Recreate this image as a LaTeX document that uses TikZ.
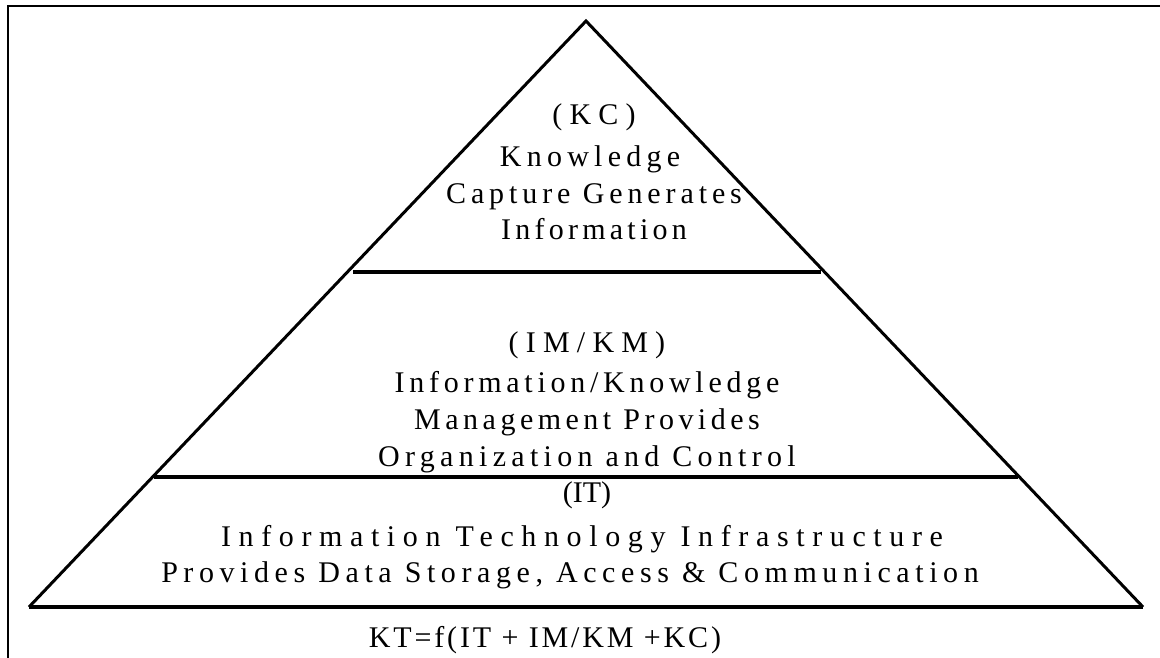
\documentclass[tikz,border=0pt]{standalone}
\usepackage{fontspec}
\setmainfont{Liberation Serif}
\newcommand\lsp[1]{\addfontfeature{LetterSpace=#1}}
\begin{document}
\begin{tikzpicture}[x=1pt,y=-1pt,
  txt/.style={font=\fontsize{30}{32}\selectfont, inner sep=0pt, anchor=base},
  edge/.style={line width=3pt, line join=miter},
  basel/.style={line width=4pt},
  tier/.style={line width=3.5pt}]
\useasboundingbox (0,0) rectangle (1160,658);
\draw[line width=2pt] (7.5,658) -- (7.5,6.5) -- (1160,6.5);
\coordinate (apex) at (586,21);
\coordinate (bl) at (29,607);
\coordinate (br) at (1143,607);
\draw[edge] (bl) -- (apex) -- (br);
\draw[basel] (bl) -- (br);
\coordinate (t1l) at (353,272);
\coordinate (t1r) at (821,272);
\coordinate (t2l) at (154,477);
\coordinate (t2r) at (1018,477);
\draw[tier] (t1l) -- (t1r);
\draw[tier] (t2l) -- (t2r);
\node[txt] (kc) at (594,125) {\lsp{24}(KC)};
\node[txt] (kc1) at (590,167) {\lsp{17.5}Knowledge};
\node[txt] (kc2) at (594,204) {\lsp{16.3}Capture Generates};
\node[txt] (kc3) at (594,240) {\lsp{14.2}Information};
\node[txt] (im) at (587,352) {\lsp{24}(IM/KM)};
\node[txt] (im1) at (587,392) {\lsp{15.8}Information/Knowledge};
\node[txt] (im2) at (587,429) {\lsp{15}Management Provides};
\node[txt] (im3) at (587,466) {\lsp{17.7}Organization and Control};
\node[txt] (it) at (587,502) {(IT)};
\node[txt] (it1) at (582,546) {\lsp{25.4}Information Technology Infrastructure};
\node[txt] (it2) at (570,582) {\lsp{18.6}Provides Data Storage, Access \& Communication};
\node[txt] (kt) at (545,647) {\lsp{9.5}KT=f(IT + IM/KM +KC)};
\end{tikzpicture}
\end{document}
